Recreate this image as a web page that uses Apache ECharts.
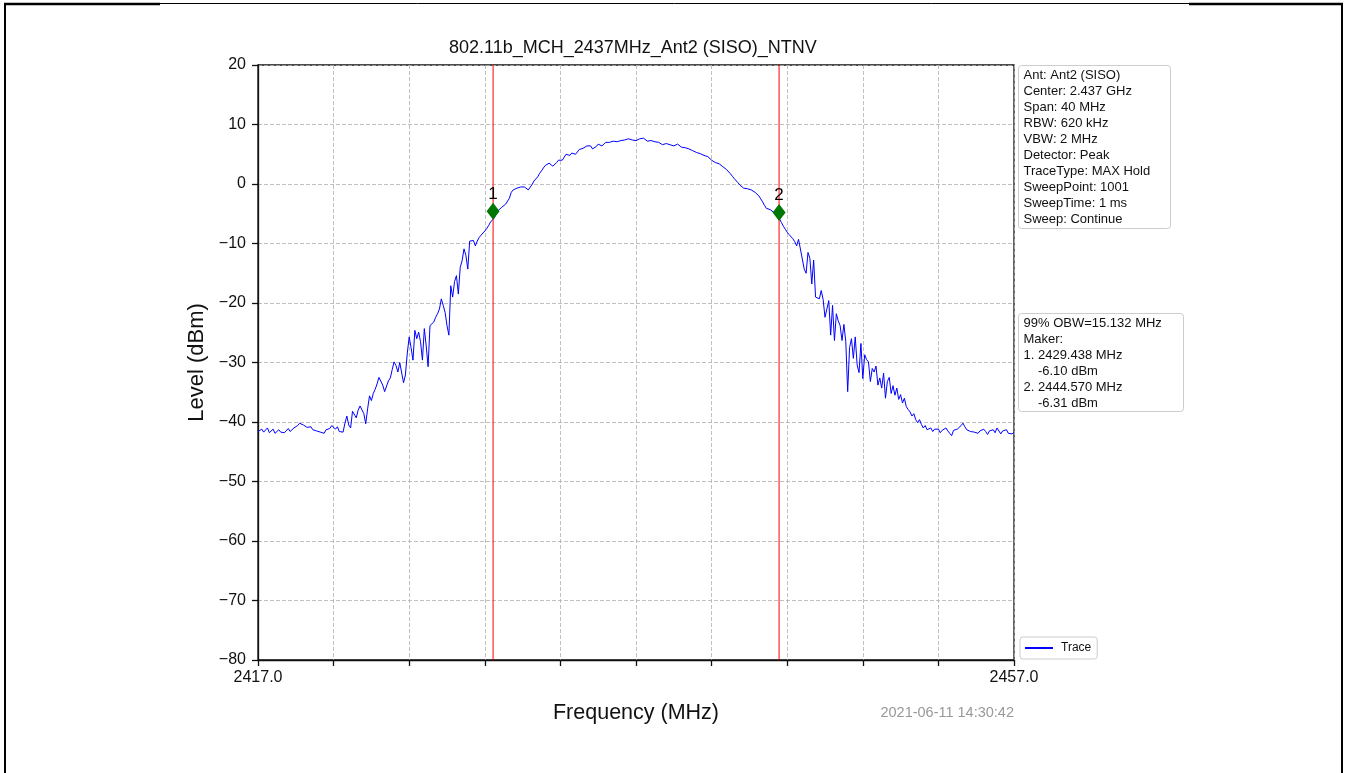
<!DOCTYPE html>
<html>
<head>
<meta charset="utf-8">
<title>802.11b_MCH_2437MHz_Ant2 (SISO)_NTNV</title>
<script src="https://cdn.jsdelivr.net/npm/echarts@6/dist/echarts.min.js"></script>
<style>
  html, body { margin: 0; padding: 0; background: #fff; }
  #chart { width: 1346px; height: 773px; }
</style>
</head>
<body>
<div id="chart"></div>
<script>
// sweep: 2417 .. 2457 MHz, one reading every 0.1 MHz (dBm)
const freqStart = 2417.0;
const freqStep = 0.1;
const levels = [
  -41.6, -41.9, -41.2, -41.7, -41.4, -41.0, -41.8, -41.5, -41.2, -41.9, -41.6, -41.3, -41.7, -41.4, -41.8, -41.5, -41.1, -41.6, -41.3, -41.0,
  -41.2, -40.6, -40.2, -40.0, -40.5, -40.3, -40.9, -41.2, -40.8, -41.3, -41.0, -41.5, -41.2, -41.7, -41.4, -41.9, -41.3, -41.6, -41.1, -40.6,
  -40.3, -41.2, -40.8, -41.6, -41.3, -41.7, -40.2, -39.0, -40.5, -41.0, -38.2, -37.9, -39.3, -38.0, -37.3, -37.5, -38.6, -40.3, -37.8, -35.6,
  -36.4, -35.2, -34.5, -33.6, -32.5, -32.3, -33.8, -34.9, -35.0, -33.1, -32.6, -31.2, -29.9, -30.5, -31.6, -30.0, -29.9, -33.4, -32.1, -28.4,
  -25.7, -27.5, -29.6, -24.6, -26.0, -24.9, -26.5, -29.6, -24.3, -27.2, -30.7, -23.8, -23.5, -23.2, -22.4, -21.8, -21.0, -19.3, -20.4, -21.6,
  -23.8, -25.4, -17.1, -19.0, -16.4, -15.4, -18.5, -14.0, -12.9, -10.9, -12.0, -14.3, -9.6, -9.3, -9.5, -10.4, -9.6, -9.0, -8.6, -8.3,
  -7.9, -7.5, -7.0, -6.4, -6.1, -5.7, -5.0, -4.5, -4.3, -3.9, -3.6, -3.4, -3.5, -2.4, -1.4, -1.0, -0.8, -0.7, -0.6, -0.5,
  -0.4, -0.5, -0.8, -1.0, -0.7, -0.1, 0.5, 0.6, 1.2, 1.8, 2.2, 2.7, 3.1, 3.4, 3.5, 3.2, 3.0, 3.1, 3.6, 4.0,
  4.2, 4.0, 4.5, 5.0, 5.1, 4.8, 5.2, 5.4, 5.0, 5.3, 5.8, 6.1, 6.0, 6.3, 6.4, 6.2, 6.4, 5.9, 5.8, 6.3,
  6.7, 6.8, 6.4, 6.6, 7.0, 7.1, 7.0, 6.9, 7.2, 7.4, 7.1, 7.0, 7.3, 7.5, 7.4, 7.5, 7.6, 7.3, 7.4, 7.4,
  7.3, 7.5, 7.6, 7.5, 7.7, 7.4, 7.2, 7.1, 7.3, 7.4, 7.1, 6.9, 7.0, 6.7, 6.6, 6.9, 6.8, 6.9, 6.6, 6.4,
  6.4, 6.5, 6.7, 6.5, 6.2, 6.3, 6.1, 6.0, 5.9, 5.8, 5.6, 5.5, 5.3, 5.3, 5.1, 5.0, 4.8, 4.7, 4.6, 4.3,
  4.0, 3.8, 3.6, 3.5, 3.4, 3.2, 2.9, 2.6, 2.4, 2.1, 1.7, 1.3, 0.9, 0.6, 0.2, -0.2, -0.5, -0.7, -0.8, -0.8,
  -0.9, -1.0, -1.2, -1.4, -1.6, -2.0, -2.5, -3.0, -3.6, -4.1, -4.2, -4.3, -4.6, -4.8, -5.0, -5.4, -5.9, -6.5, -7.1, -7.6,
  -8.1, -8.5, -8.8, -9.2, -9.7, -10.4, -9.3, -9.6, -12.6, -14.3, -15.0, -11.5, -12.5, -16.8, -12.8, -19.0, -18.8, -19.3, -17.9, -19.4,
  -22.4, -21.0, -19.6, -25.4, -20.4, -26.3, -21.8, -23.0, -23.8, -26.3, -23.6, -26.5, -34.9, -27.5, -26.0, -29.3, -25.7, -30.4, -31.7, -26.8,
  -32.7, -28.7, -29.5, -29.9, -33.2, -31.0, -31.6, -30.6, -33.8, -32.6, -34.3, -31.8, -36.0, -33.2, -32.5, -35.2, -33.9, -35.5, -34.3, -36.2,
  -35.4, -36.8, -36.0, -37.4, -37.9, -38.3, -39.0, -38.6, -39.6, -40.1, -39.6, -40.4, -41.0, -40.6, -41.3, -41.4, -41.0, -41.6, -41.2, -41.5,
  -41.2, -41.8, -41.4, -41.7, -41.0, -41.5, -41.9, -42.3, -41.4, -41.6, -41.2, -40.9, -40.6, -40.2, -40.8, -41.3, -41.0, -41.6, -41.3, -41.7,
  -41.4, -41.9, -41.5, -41.8, -41.2, -41.6, -42.1, -41.5, -41.7, -41.3, -41.8, -41.0, -40.7, -42.0, -41.5, -41.8, -41.3, -41.9, -41.6, -42.0,
  -41.7
];

// markers (MHz, dBm)
const markerNames = ['1', '2'];
const markerFreqs = [2429.438, 2444.570];
const markerLevels = [-6.10, -6.31];

// level axis range
const levelMin = -80;
const levelMax = 20;

const infoLines = [
  'Ant: Ant2 (SISO)',
  'Center: 2.437 GHz',
  'Span: 40 MHz',
  'RBW: 620 kHz',
  'VBW: 2 MHz',
  'Detector: Peak',
  'TraceType: MAX Hold',
  'SweepPoint: 1001',
  'SweepTime: 1 ms',
  'Sweep: Continue'
];
const obwLines = [
  '99% OBW=15.132 MHz',
  'Maker:',
  '1. 2429.438 MHz',
  '    -6.10 dBm',
  '2. 2444.570 MHz',
  '    -6.31 dBm'
];

const FONT = '"Liberation Sans", Arial, sans-serif';

let chart = echarts.init(document.getElementById('chart'));

let traceData = levels.map((v, i) => [+(freqStart + i * freqStep).toFixed(1), v]);
let markerData = markerFreqs.map((f, i) => ({ name: markerNames[i], value: [f, markerLevels[i]] }));

// text box (info panels at the right of the plot)
function textBox(x, y, w, h, lines) {
  return {
    type: 'group',
    left: x,
    top: y,
    children: [
      {
        type: 'rect',
        shape: { x: 0, y: 0, width: w, height: h, r: 3 },
        style: { fill: '#fff', stroke: '#cccccc', lineWidth: 1 }
      },
      {
        type: 'text',
        x: 5,
        y: 2,
        style: {
          text: lines.join('\n'),
          font: '13px ' + FONT,
          lineHeight: 16,
          fill: '#111'
        }
      }
    ]
  };
}

// red vertical line at every marker frequency
let markerLineSeries = markerFreqs.map((f, i) => ({
  name: 'marker line ' + markerNames[i],
  type: 'line',
  data: [[f, levelMin], [f, levelMax]],
  showSymbol: false,
  silent: true,
  lineStyle: { color: '#ff0000', width: 1, opacity: 1 },
  itemStyle: { color: '#ff0000' },
  z: 3
}));

let option = {
  animation: false,
  backgroundColor: '#fff',
  grid: {
    left: 258,
    top: 65,
    width: 756,
    height: 595,
    show: true,
    borderColor: '#111',
    borderWidth: 1.3,
    backgroundColor: '#fff'
  },
  legend: {
    data: [{ name: 'Trace', icon: 'rect' }],
    left: 1020,
    top: 637,
    itemWidth: 28,
    itemHeight: 2,
    itemGap: 6,
    padding: [5, 6, 5, 5],
    borderColor: '#cccccc',
    borderWidth: 1,
    borderRadius: 3,
    textStyle: { fontFamily: FONT, fontSize: 12, color: '#111', padding: [0, 0, 0, 3] }
  },
  xAxis: {
    type: 'value',
    min: 2417,
    max: 2457,
    interval: 4,
    name: 'Frequency (MHz)',
    nameLocation: 'middle',
    nameGap: 42,
    nameTextStyle: { fontFamily: FONT, fontSize: 21.5, color: '#111' },
    axisLine: { onZero: false, lineStyle: { color: '#111', width: 1.3 } },
    axisTick: { show: true, length: 6, lineStyle: { color: '#111', width: 1.3 } },
    axisLabel: {
      margin: 10,
      fontFamily: FONT,
      fontSize: 16,
      color: '#111',
      formatter: v => (v === 2417 || v === 2457) ? v.toFixed(1) : ''
    },
    splitLine: { show: true, lineStyle: { color: '#b0b0b0', width: 0.8, type: [4, 2] } }
  },
  yAxis: {
    type: 'value',
    min: levelMin,
    max: levelMax,
    interval: 10,
    name: 'Level (dBm)',
    nameLocation: 'middle',
    nameGap: 50,
    nameRotate: 90,
    nameTextStyle: { fontFamily: FONT, fontSize: 22, color: '#111' },
    axisLine: { show: true, onZero: false, lineStyle: { color: '#111', width: 1.3 } },
    axisTick: { show: true, length: 6, lineStyle: { color: '#111', width: 1.3 } },
    axisLabel: {
      margin: 12,
      fontFamily: FONT,
      fontSize: 16,
      color: '#111',
      formatter: v => (v < 0 ? '\u2212' + Math.abs(v) : String(v))
    },
    splitLine: { show: true, lineStyle: { color: '#b0b0b0', width: 0.8, type: [4, 2] } }
  },
  series: [
    {
      name: 'Trace',
      type: 'line',
      data: traceData,
      showSymbol: false,
      lineStyle: { color: '#0000ff', width: 1 },
      itemStyle: { color: '#0000ff' },
      z: 2
    },
    ...markerLineSeries,
    {
      name: 'Markers',
      type: 'scatter',
      data: markerData,
      symbol: 'diamond',
      symbolSize: [13, 17],
      symbolOffset: [0, -9],
      itemStyle: { color: '#007700', opacity: 1 },
      label: {
        show: true,
        position: 'top',
        distance: 0,
        formatter: p => p.name,
        fontFamily: FONT,
        fontSize: 17,
        color: '#000'
      },
      z: 5
    }
  ],
  graphic: [
    // page frame
    { type: 'line', shape: { x1: 5, y1: 4, x2: 5, y2: 773 }, style: { stroke: '#000', lineWidth: 2 } },
    { type: 'line', shape: { x1: 1342, y1: 4, x2: 1342, y2: 773 }, style: { stroke: '#000', lineWidth: 2 } },
    { type: 'line', shape: { x1: 4, y1: 4, x2: 160, y2: 4 }, style: { stroke: '#000', lineWidth: 2.5 } },
    { type: 'line', shape: { x1: 160, y1: 3.5, x2: 1189, y2: 3.5 }, style: { stroke: '#000', lineWidth: 1 } },
    { type: 'line', shape: { x1: 1189, y1: 4, x2: 1343, y2: 4 }, style: { stroke: '#000', lineWidth: 2.5 } },
    // title
    {
      type: 'text',
      left: 449,
      top: 39,
      style: {
        text: '802.11b_MCH_2437MHz_Ant2 (SISO)_NTNV',
        font: '18px ' + FONT,
        fill: '#111'
      }
    },
    textBox(1018, 65, 152, 163, infoLines),
    textBox(1018, 313, 165, 98, obwLines),
    // timestamp
    {
      type: 'text',
      right: 332,
      top: 705,
      style: {
        text: '2021-06-11 14:30:42',
        font: '14.5px ' + FONT,
        fill: '#999999'
      }
    }
  ]
};

chart.setOption(option);
window.addEventListener('resize', () => chart.resize());
</script>
</body>
</html>
